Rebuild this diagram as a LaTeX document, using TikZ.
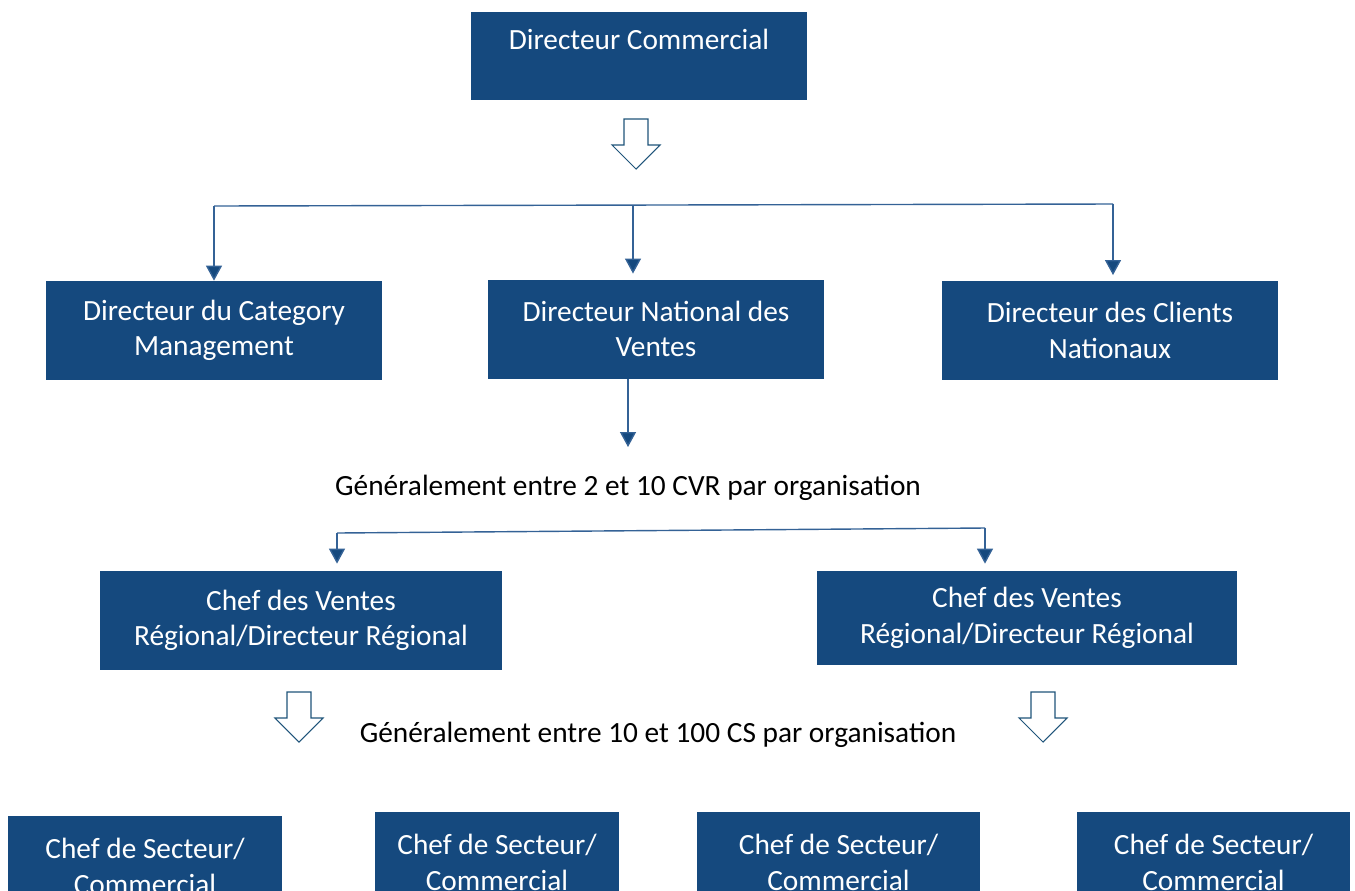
\documentclass[tikz,border=0pt]{standalone}
\usepackage{fontspec}
\setmainfont{Carlito}
\usepackage{xcolor}
\definecolor{orgblue}{RGB}{21,73,126}
\definecolor{orgline}{RGB}{52,98,150}
\definecolor{orgedge}{RGB}{31,84,122}
\usetikzlibrary{arrows.meta,positioning,calc}

\begin{document}
\begin{tikzpicture}[
    x=0.02cm, y=-0.02cm,
    orgbox/.style={rectangle, fill=orgblue, text=white, inner sep=0pt,
                   minimum height=1.98cm, align=center,
                   font=\fontsize{16.7pt}{20.2pt}\selectfont},
    notetext/.style={inner sep=0pt, text=black,
                     font=\fontsize{16.7pt}{20.2pt}\selectfont},
    conn/.style={draw=orgline, line width=0.8pt,
                 -{Triangle[width=0.32cm, length=0.3cm, fill=orgblue]}},
    bus/.style={draw=orgline, line width=0.8pt},
    hollowdown/.pic={
      \draw[orgedge, line width=0.6pt, fill=white]
        (-12,0) -- (12,0) -- (12,26) -- (24,26) -- (0,50)
        -- (-24,26) -- (-12,26) -- cycle;
    }
  ]
    \useasboundingbox (0,0) rectangle (1355,890);
    \clip (0,0) rectangle (1355,890);

    % Top: Directeur Commercial
    \node[orgbox, minimum width=6.72cm, minimum height=1.76cm,
          text height=0.44cm, text depth=0.7cm] (dc) at (639,56)
          {Directeur Commercial};
    \pic at (636,119) {hollowdown};

    % Bus to the three directors
    \coordinate (bus1) at (214,206);
    \coordinate (bus2) at (633,205);
    \coordinate (bus3) at (1113,204);
    \draw[bus] (bus1) -- (bus3);

    % Row 2: directors
    \node[orgbox, minimum width=6.72cm] (dcm) at (214,330.5)
          {Directeur du Category\\Management};
    \node[orgbox, minimum width=6.72cm] (dnv) at (656,329)
          {Directeur National des\\Ventes};
    \node[orgbox, minimum width=6.72cm] (dcn) at (1110,330.5)
          {Directeur des Clients\\Nationaux};
    \draw[conn] (bus1) -- (bus1 |- dcm.north);
    \draw[conn, shorten >=4\pgflinewidth] (bus2) -- (bus2 |- dnv.north);
    \draw[conn, shorten >=4\pgflinewidth] (bus3) -- (bus3 |- dcn.north);

    % Down to the regional level
    \coordinate (cvrtop) at (628,447);
    \draw[conn] (dnv.south -| cvrtop) -- (cvrtop);
    \node[notetext] (cvr) at (628,488)
          {Généralement entre 2 et 10 CVR par organisation};

    % Bus to the regional chiefs
    \coordinate (rbus1) at (337,533);
    \coordinate (rbus2) at (985,528);
    \draw[bus] (rbus1) -- (rbus2);

    % Row 3: regional chiefs
    \node[orgbox, minimum width=8.04cm] (cvr1) at (301,620.5)
          {Chef des Ventes\\Régional/Directeur Régional};
    \node[orgbox, minimum width=8.4cm, minimum height=1.88cm] (cvr2) at (1027,618)
          {Chef des Ventes\\Régional/Directeur Régional};
    \draw[conn, shorten >=5\pgflinewidth] (rbus1) -- (rbus1 |- cvr1.north);
    \draw[conn, shorten >=5\pgflinewidth] (rbus2) -- (rbus2 |- cvr2.north);

    % Hollow arrows and note
    \pic at (299,692) {hollowdown};
    \pic at (1043,692) {hollowdown};
    \node[notetext] (cs) at (658,735)
          {Généralement entre 10 et 100 CS par organisation};

    % Row 4: sector chiefs
    \node[orgbox, minimum width=5.48cm, minimum height=2cm, anchor=north] (cs1) at (145,816)
          {Chef de Secteur/\\Commercial};
    \node[orgbox, minimum width=4.88cm, minimum height=2cm, anchor=north] (cs2) at (497,812)
          {Chef de Secteur/\\Commercial};
    \node[orgbox, minimum width=5.66cm, minimum height=2cm, anchor=north] (cs3) at (838.5,812)
          {Chef de Secteur/\\Commercial};
    \node[orgbox, minimum width=5.46cm, minimum height=2cm, anchor=north] (cs4) at (1213.5,812)
          {Chef de Secteur/\\Commercial};
  \end{tikzpicture}
\end{document}
